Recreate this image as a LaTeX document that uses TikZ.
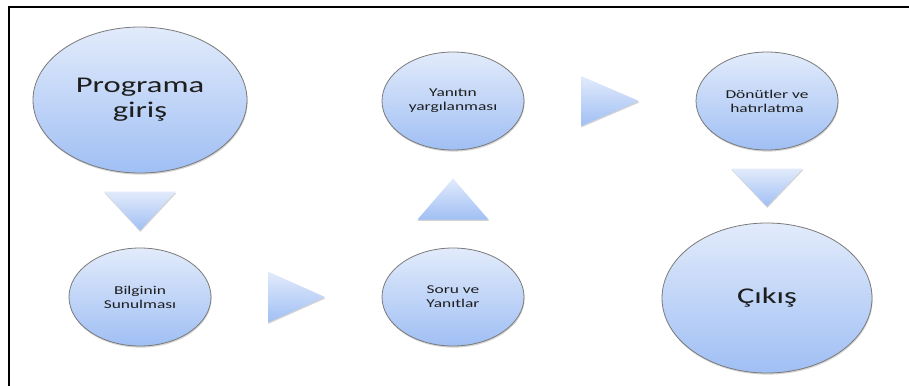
\documentclass[tikz,border=0pt]{standalone}
\usepackage{fontspec}
\setmainfont{Carlito}
\newfontfamily\widefont[FakeStretch=1.45]{Carlito}
\usetikzlibrary{shapes.geometric,shadows}

\definecolor{shadetop}{HTML}{E2EBFB}
\definecolor{shadebottom}{HTML}{A0BFF4}
\definecolor{rimgray}{HTML}{7A7A7A}
\definecolor{inkdark}{HTML}{1E1E1E}

\tikzset{
  stage/.style={ellipse, draw=rimgray, line width=0.8pt, inner sep=0pt,
    top color=shadetop, bottom color=shadebottom, text=inkdark, align=center,
    drop shadow={shadow xshift=0.6pt, shadow yshift=-1.6pt, opacity=0.35}},
  smallstage/.style={stage, minimum width=142pt, minimum height=98pt,
    font=\widefont\fontsize{12}{14}\selectfont},
  bigstage/.style={stage, font=\widefont\fontsize{22.5}{25}\selectfont},
  arrowtri/.style={top color=shadetop, bottom color=shadebottom,
    drop shadow={shadow xshift=0.4pt, shadow yshift=-1.4pt, opacity=0.35}},
  frameline/.style={draw=black, line width=2pt}
}

\begin{document}
\begin{tikzpicture}[x=1pt, y=-1pt]
  \useasboundingbox (0,0) rectangle (909,385);
  \begin{scope}
    \clip (0,0) rectangle (909,385);
    \draw[frameline] (9,7) rectangle (1000,500);
  \end{scope}

  % stages
  \node[bigstage, minimum width=214pt, minimum height=146pt] (prog) at (140,100) {Programa\\giriş};
  \node[smallstage] (bilg) at (140,297) {Bilginin\\Sunulması};
  \node[smallstage] (soru) at (453,297) {Soru ve\\Yanıtlar};
  \node[smallstage] (yanit) at (453,101) {Yanıtın\\yargılanması};
  \node[smallstage] (donut) at (767,101) {Dönütler ve\\hatırlatma};
  \node[bigstage, minimum width=210pt, minimum height=150pt] (cikis) at (767,298) {Çıkış};

  % gap midpoints between consecutive stages
  \path (prog.south) -- (bilg.north) coordinate[pos=.5] (g1);
  \path (bilg.east) -- (soru.west) coordinate[pos=.5] (g2);
  \path (soru.north) -- (yanit.south) coordinate[pos=.5] (g3);
  \path (yanit.east) -- (donut.west) coordinate[pos=.5] (g4);
  \path (donut.south) -- (cikis.north) coordinate[pos=.5] (g5);

  % direction triangles
  \path[arrowtri] (g1) ++(-36,-19) -- ++(72,0) -- ++(-36,39) -- cycle;
  \path[arrowtri] (g2) ++(-28.5,-25.5) -- ++(57,25.5) -- ++(-57,25.5) -- cycle;
  \path[arrowtri] (g3) ++(-35.5,20.5) -- ++(71,0) -- ++(-35.5,-41) -- cycle;
  \path[arrowtri] (g4) ++(-29,-25) -- ++(58,25) -- ++(-58,25) -- cycle;
  \path[arrowtri] (g5) ++(-36,-18) -- ++(72,0) -- ++(-36,38) -- cycle;
\end{tikzpicture}
\end{document}
